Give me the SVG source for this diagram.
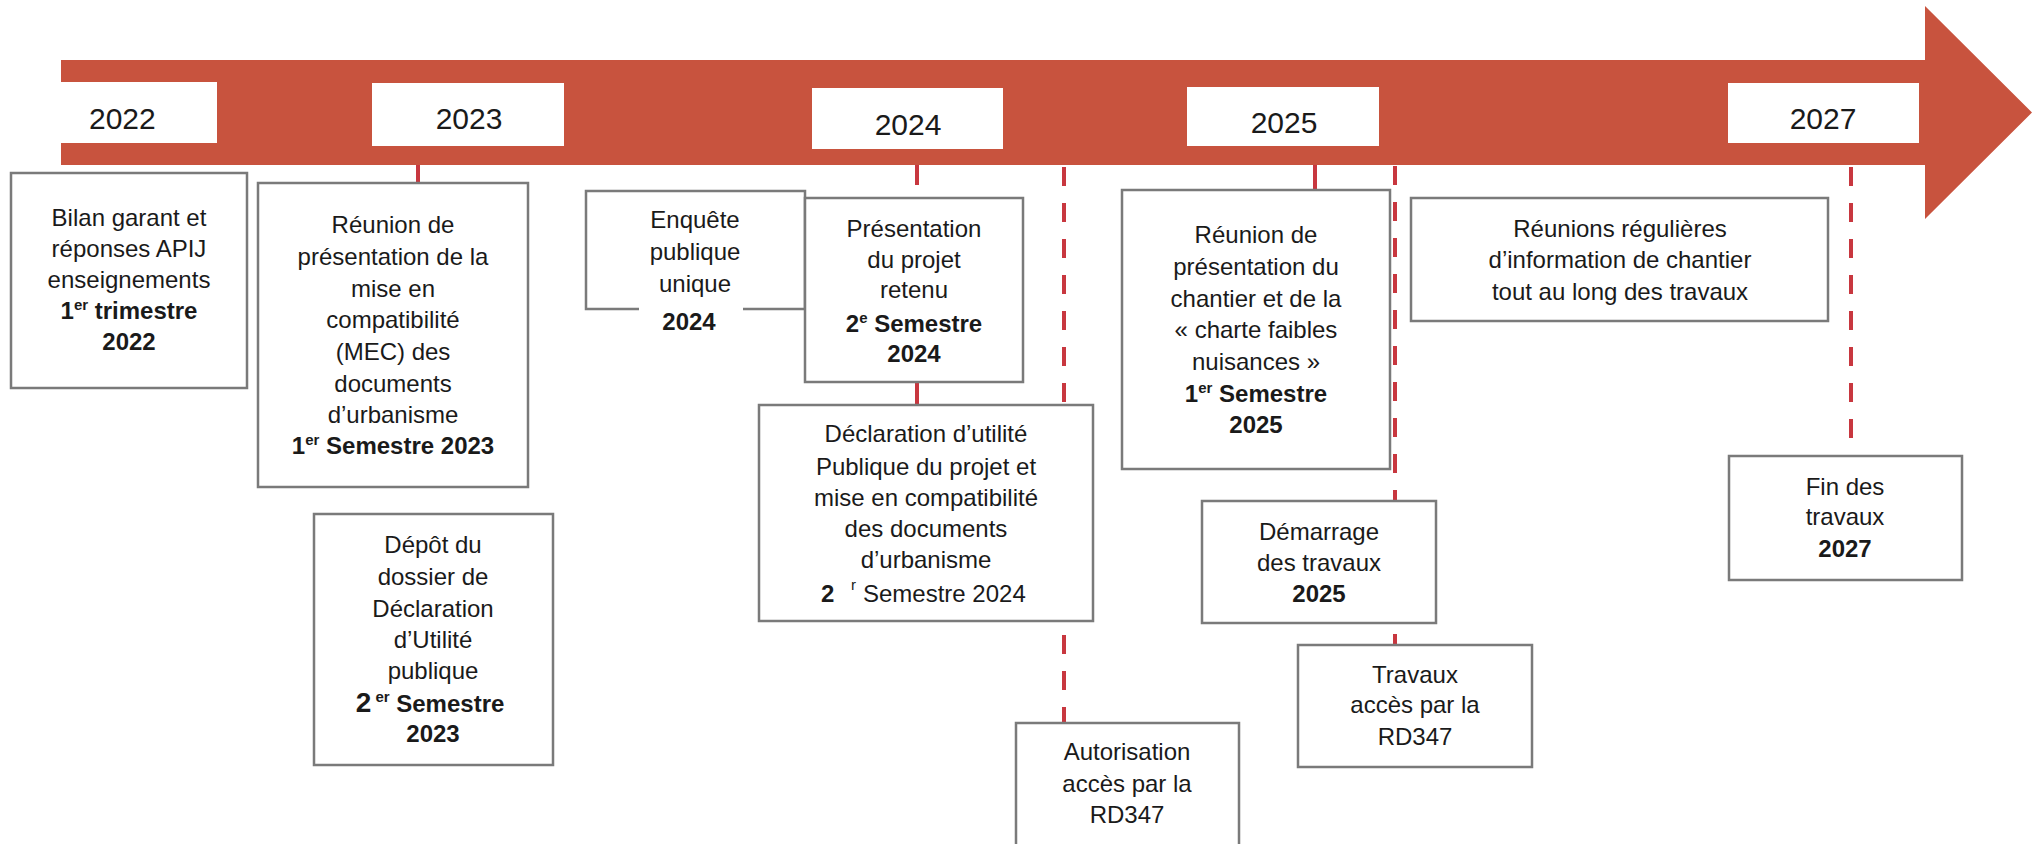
<svg xmlns="http://www.w3.org/2000/svg" width="2042" height="844" viewBox="0 0 2042 844">
<style>
.box{fill:#fff;stroke:#7a7a7a;stroke-width:2.5}
.yb{fill:#fff}
.t{font-family:"Liberation Sans",Arial,sans-serif;font-size:24px;fill:#1a1a1a;text-anchor:middle}
.s{text-anchor:start}
.b{font-weight:bold}
.yr{font-size:30px}
.sup{font-size:15px}
.tick{stroke:#C8373F;stroke-width:4;fill:none}
.dash{stroke-dasharray:19 17}
</style>
<rect x="0" y="0" width="2042" height="844" fill="#fff"/>
<g id="timeline">
<path d="M61,60 H1925 V6 L2032,112.5 L1925,219 V165 H61 Z" fill="#C8533E"/>
<rect class="yb" x="61" y="82" width="156" height="61"/>
<text class="t yr s" x="89" y="129">2022</text>
<rect class="yb" x="372" y="83" width="192" height="63"/>
<text class="t yr" x="469" y="129">2023</text>
<rect class="yb" x="812" y="88" width="191" height="61"/>
<text class="t yr" x="908" y="135">2024</text>
<rect class="yb" x="1187" y="87" width="192" height="59"/>
<text class="t yr" x="1284" y="133">2025</text>
<rect class="yb" x="1728" y="83" width="191" height="60"/>
<text class="t yr" x="1823" y="129">2027</text>
</g>
<g id="connectors">
<line class="tick" x1="418" y1="165" x2="418" y2="183"/>
<line class="tick" x1="917" y1="165" x2="917" y2="185"/>
<line class="tick" x1="917" y1="383" x2="917" y2="404"/>
<line class="tick dash" x1="1064" y1="167" x2="1064" y2="723"/>
<line class="tick" x1="1315" y1="165" x2="1315" y2="190"/>
<line class="tick dash" x1="1395" y1="166" x2="1395" y2="645"/>
<line class="tick dash" x1="1851" y1="167" x2="1851" y2="456"/>
</g>
<g id="bilan">
<rect class="box" x="11" y="173" width="236" height="215"/>
<text class="t" x="129" y="226">Bilan garant et</text>
<text class="t" x="129" y="257">réponses APIJ</text>
<text class="t" x="129" y="288">enseignements</text>
<text class="t b" x="129" y="319">1<tspan class="sup" dy="-9">er</tspan><tspan dy="9"> trimestre</tspan></text>
<text class="t b" x="129" y="350">2022</text>
</g>
<g id="reunion-mec">
<rect class="box" x="258" y="183" width="270" height="304"/>
<text class="t" x="393" y="233">Réunion de</text>
<text class="t" x="393" y="265">présentation de la</text>
<text class="t" x="393" y="297">mise en</text>
<text class="t" x="393" y="328">compatibilité</text>
<text class="t" x="393" y="360">(MEC) des</text>
<text class="t" x="393" y="392">documents</text>
<text class="t" x="393" y="423">d’urbanisme</text>
<text class="t b" x="393" y="454" font-size="23">1<tspan class="sup" dy="-9">er</tspan><tspan dy="9"> Semestre 2023</tspan></text>
</g>
<g id="depot">
<rect class="box" x="314" y="514" width="239" height="251"/>
<text class="t" x="433" y="553">Dépôt du</text>
<text class="t" x="433" y="585">dossier de</text>
<text class="t" x="433" y="617">Déclaration</text>
<text class="t" x="433" y="648">d’Utilité</text>
<text class="t" x="433" y="679">publique</text>
<text class="t b" x="430" y="712" font-size="23"><tspan font-size="28">2</tspan><tspan class="sup" dy="-10"> er</tspan><tspan dy="10"> Semestre</tspan></text>
<text class="t b" x="433" y="742">2023</text>
</g>
<g id="enquete">
<rect x="586" y="191" width="219" height="118" fill="#fff"/>
<path class="box" fill="none" d="M639,309 H586 V191 H805 V309 H743"/>
<text class="t" x="695" y="228">Enquête</text>
<text class="t" x="695" y="260">publique</text>
<text class="t" x="695" y="292">unique</text>
<text class="t b" x="689" y="330" font-size="20">2024</text>
</g>
<g id="presentation">
<rect class="box" x="805" y="198" width="218" height="184"/>
<text class="t" x="914" y="237">Présentation</text>
<text class="t" x="914" y="268">du projet</text>
<text class="t" x="914" y="298">retenu</text>
<text class="t b" x="914" y="332">2<tspan class="sup" dy="-9">e</tspan><tspan dy="9"> Semestre</tspan></text>
<text class="t b" x="914" y="362">2024</text>
</g>
<g id="declaration">
<rect class="box" x="759" y="405" width="334" height="216"/>
<text class="t" x="926" y="442">Déclaration d’utilité</text>
<text class="t" x="926" y="475">Publique du projet et</text>
<text class="t" x="926" y="506">mise en compatibilité</text>
<text class="t" x="926" y="537">des documents</text>
<text class="t" x="926" y="568">d’urbanisme</text>
<text class="t b s" x="821" y="602">2</text>
<text class="t s sup" x="851" y="590">r</text>
<text class="t s" x="863" y="602" font-size="23.4">Semestre 2024</text>
</g>
<g id="autorisation">
<rect class="box" x="1016" y="723" width="223" height="140"/>
<text class="t" x="1127" y="760">Autorisation</text>
<text class="t" x="1127" y="792">accès par la</text>
<text class="t" x="1127" y="823">RD347</text>
</g>
<g id="reunion-chantier">
<rect class="box" x="1122" y="190" width="268" height="279"/>
<text class="t" x="1256" y="243">Réunion de</text>
<text class="t" x="1256" y="275">présentation du</text>
<text class="t" x="1256" y="307">chantier et de la</text>
<text class="t" x="1256" y="338">« charte faibles</text>
<text class="t" x="1256" y="370">nuisances »</text>
<text class="t b" x="1256" y="402">1<tspan class="sup" dy="-9">er</tspan><tspan dy="9"> Semestre</tspan></text>
<text class="t b" x="1256" y="433">2025</text>
</g>
<g id="demarrage">
<rect class="box" x="1202" y="501" width="234" height="122"/>
<text class="t" x="1319" y="540">Démarrage</text>
<text class="t" x="1319" y="571">des travaux</text>
<text class="t b" x="1319" y="602">2025</text>
</g>
<g id="travaux">
<rect class="box" x="1298" y="645" width="234" height="122"/>
<text class="t" x="1415" y="683">Travaux</text>
<text class="t" x="1415" y="713">accès par la</text>
<text class="t" x="1415" y="745">RD347</text>
</g>
<g id="reunions-regulieres">
<rect class="box" x="1411" y="198" width="417" height="123"/>
<text class="t" x="1620" y="237">Réunions régulières</text>
<text class="t" x="1620" y="268">d’information de chantier</text>
<text class="t" x="1620" y="300">tout au long des travaux</text>
</g>
<g id="fin">
<rect class="box" x="1729" y="456" width="233" height="124"/>
<text class="t" x="1845" y="495">Fin des</text>
<text class="t" x="1845" y="525">travaux</text>
<text class="t b" x="1845" y="557">2027</text>
</g>
</svg>
